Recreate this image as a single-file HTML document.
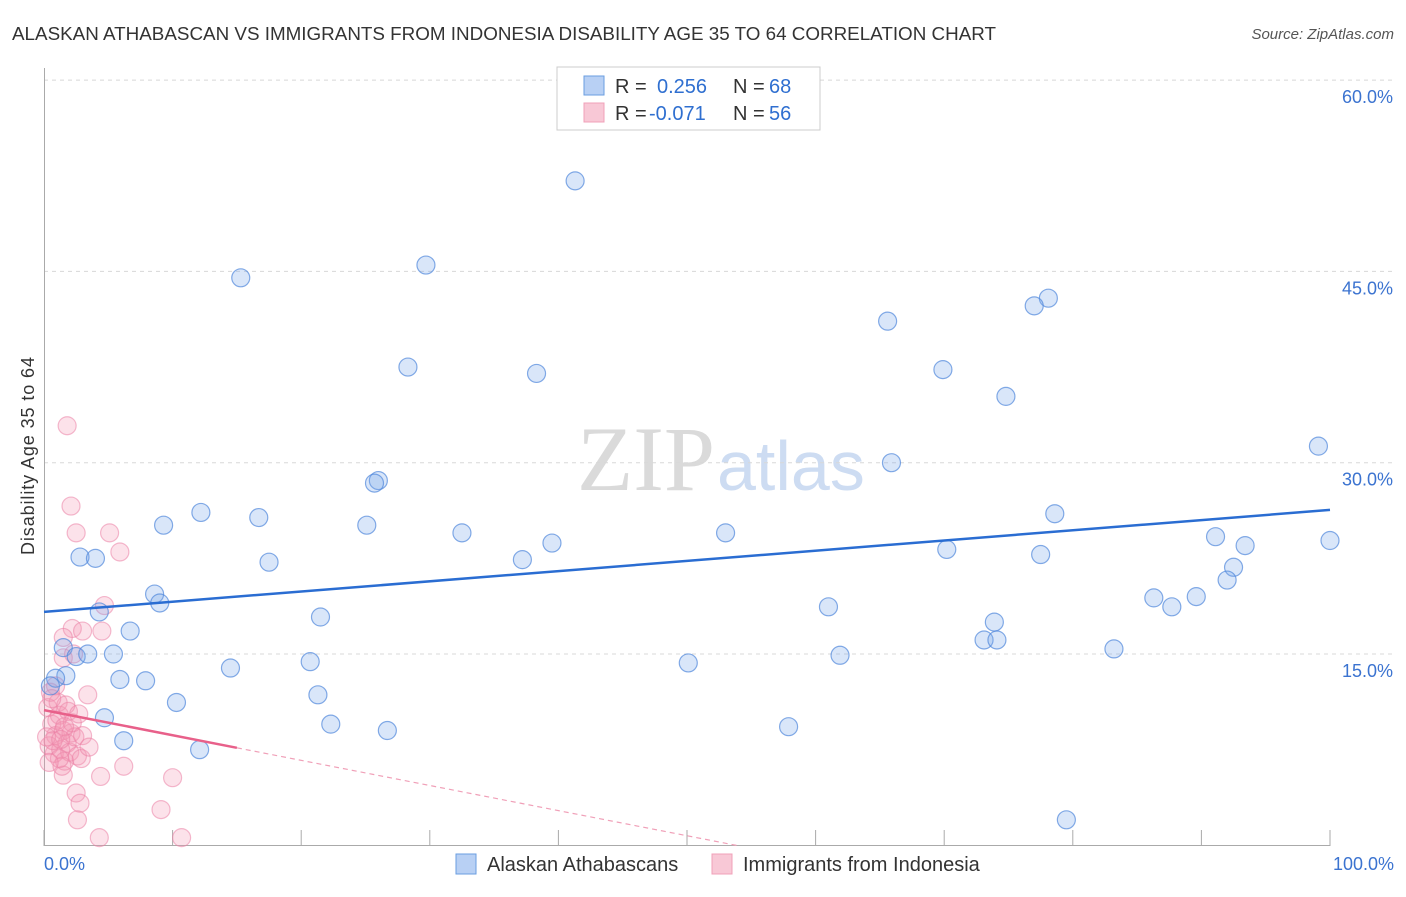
<!DOCTYPE html>
<html><head><meta charset="utf-8"><style>
body{margin:0;background:#fff;font-family:"Liberation Sans",sans-serif;}
</style></head><body>
<svg width="1406" height="892" xmlns="http://www.w3.org/2000/svg" id="svg">
<text x="12" y="40" font-size="18" fill="#333" textLength="984" lengthAdjust="spacingAndGlyphs">ALASKAN ATHABASCAN VS IMMIGRANTS FROM INDONESIA DISABILITY AGE 35 TO 64 CORRELATION CHART</text>
<text x="1394" y="39" font-size="15" fill="#555" font-style="italic" text-anchor="end">Source: ZipAtlas.com</text>
<text x="34" y="456" font-size="18" fill="#333" text-anchor="middle" textLength="198" transform="rotate(-90 34 456)">Disability Age 35 to 64</text>
<text x="715" y="490" font-size="92" fill="#dadada" text-anchor="end" font-family="Liberation Serif,serif">ZIP</text>
<text x="717" y="490" font-size="70" fill="#cddcf2">atlas</text>
<g id="grid"></g><g id="marks"></g>
<g>
<rect x="557" y="67" width="263" height="63" fill="#fff" stroke="#ccc"/>
<rect x="584" y="76" width="20" height="19" fill="#b8d0f4" stroke="#6a9ee0"/>
<rect x="584" y="103" width="20" height="19" fill="#f8c8d6" stroke="#f0a0b8"/>
<text x="615" y="93" font-size="20" fill="#333">R = <tspan x="657" fill="#2f6fd0">0.256</tspan><tspan x="733">N = </tspan><tspan x="769" fill="#2f6fd0">68</tspan></text>
<text x="615" y="120" font-size="20" fill="#333">R = <tspan x="649" fill="#2f6fd0">-0.071</tspan><tspan x="733">N = </tspan><tspan x="769" fill="#2f6fd0">56</tspan></text>
</g>
<g>
<rect x="456" y="854" width="20" height="20" fill="#b8d0f4" stroke="#6a9ee0"/>
<text x="487" y="871" font-size="20" fill="#333">Alaskan Athabascans</text>
<rect x="712" y="854" width="20" height="20" fill="#f8c8d6" stroke="#f0a0b8"/>
<text x="743" y="871" font-size="20" fill="#333">Immigrants from Indonesia</text>
</g>
</svg>
<script>
const yTicks=[15,30,45,60];
const yTickLabels=["15.0%","30.0%","45.0%","60.0%"];
const xTicks=[0,10,20,30,40,50,60,70,80,90,100];
const blueX=[41.3,15.3,29.7,65.6,78.1,77.0,28.3,38.3,69.9,74.8,99.1,65.9,26.0,25.7,9.3,12.2,16.7,25.1,32.5,78.6,53.0,39.5,37.2,91.1,93.4,2.8,4.0,70.2,77.5,100,17.5,92.5,92.0,8.6,9.0,86.3,89.6,87.7,61.0,4.3,21.5,6.7,73.9,73.1,74.1,1.5,2.5,3.4,5.4,83.2,61.9,50.1,20.7,14.5,1.7,0.9,5.9,7.9,0.5,21.3,10.3,4.7,22.3,26.7,57.9,6.2,12.1,79.5];
const blueY=[52.1,44.5,45.5,41.1,42.9,42.3,37.5,37.0,37.3,35.2,31.3,30.0,28.6,28.4,25.1,26.1,25.7,25.1,24.5,26.0,24.5,23.7,22.4,24.2,23.5,22.6,22.5,23.2,22.8,23.9,22.2,21.8,20.8,19.7,19.0,19.4,19.5,18.7,18.7,18.3,17.9,16.8,17.5,16.1,16.1,15.5,14.8,15.0,15.0,15.4,14.9,14.3,14.4,13.9,13.3,13.1,13.0,12.9,12.5,11.8,11.2,10.0,9.5,9.0,9.3,8.2,7.5,2.0];
const pinkX=[1.8,2.1,2.5,5.1,5.9,4.7,2.2,3.0,4.5,1.5,1.5,2.3,3.4,4.4,6.2,10.0,2.5,2.8,2.6,9.1,4.3,10.7,1.5,0.3,0.6,0.9,1.2,1.5,1.8,2.1,0.4,0.8,1.3,1.6,2.0,2.4,1.1,0.5,1.9,1.4,0.7,1.0,2.2,1.7,2.6,0.2,1.2,3.0,0.9,2.7,1.6,0.4,2.9,1.3,3.5,0.6];
const pinkY=[32.9,26.6,24.5,24.5,23.0,18.8,17.0,16.8,16.8,16.3,14.7,15.0,11.8,5.4,6.2,5.3,4.1,3.3,2.0,2.8,0.6,0.6,5.5,10.8,9.5,8.6,10.2,9.0,8.0,8.8,7.8,7.2,7.5,6.6,7.3,8.5,11.2,12.0,10.5,6.2,8.2,9.8,9.6,11.0,7.0,8.5,6.8,8.6,12.5,10.3,9.3,6.5,6.8,8.3,7.7,11.5];
const blueTrend=[18.3,26.3];
const pinkTrend=[10.6,-0.197];
const pinkSolidEnd=15, pinkDashEnd=54;
const X=v=>44+v*12.86, Y=v=>845.3-v*12.753;
const NS="http://www.w3.org/2000/svg";
const grid=document.getElementById('grid'), marks=document.getElementById('marks');
function mk(tag,attrs,parent){const e=document.createElementNS(NS,tag);for(const k in attrs)e.setAttribute(k,attrs[k]);parent.appendChild(e);return e;}
yTicks.forEach((t,i)=>{
  const l=mk('line',{x1:44,x2:1394,y1:Y(t),y2:Y(t),stroke:'#d8d8d8','stroke-dasharray':'4 4'},grid);
  
  
  const tx=mk('text',{x:1393,y:Y(t)+23,'font-size':18,fill:'#3b73d0','text-anchor':'end'},grid);
  tx.textContent=yTickLabels[i];
  
  
});
const ax=mk('line',{x1:44,x2:1330,y1:845.5,y2:845.5,stroke:'#aaa'},grid);


const ay=mk('line',{x1:44.5,x2:44.5,y1:68,y2:846,stroke:'#aaa'},grid);


xTicks.forEach(t=>{const l=mk('line',{x1:X(t),x2:X(t),y1:830,y2:846,stroke:'#aaa'},grid);
  
  });
[['0.0%',44,'start'],['100.0%',1394,'end']].forEach(a=>{const t=mk('text',{x:a[1],y:870,'font-size':18,fill:'#3b73d0','text-anchor':a[2]},grid);t.textContent=a[0];
  
  });
pinkX.forEach((x,i)=>{const c=mk('circle',{cx:X(x),cy:Y(pinkY[i]),r:9,fill:'rgba(244,150,180,0.28)',stroke:'rgba(235,130,165,0.55)','stroke-width':1.2},marks);
  
  });
blueX.forEach((x,i)=>{const c=mk('circle',{cx:X(x),cy:Y(blueY[i]),r:9,fill:'rgba(120,165,235,0.28)',stroke:'rgba(80,135,220,0.7)','stroke-width':1.2},marks);
  
  });
const bt=mk('line',{x1:X(0),y1:Y(blueTrend[0]),x2:X(100),y2:Y(blueTrend[1]),stroke:'#2a6dd2','stroke-width':2.5},marks);


const pf=x=>pinkTrend[0]+pinkTrend[1]*x;
const pt=mk('line',{x1:X(0),y1:Y(pf(0)),x2:X(pinkSolidEnd),y2:Y(pf(pinkSolidEnd)),stroke:'#e8608a','stroke-width':2.5},marks);


const pd=mk('line',{x1:X(pinkSolidEnd),y1:Y(pf(pinkSolidEnd)),x2:X(pinkDashEnd),y2:Y(pf(pinkDashEnd)),stroke:'#f0a0b8','stroke-width':1.2,'stroke-dasharray':'5 4'},marks);


</script>
</body></html>
